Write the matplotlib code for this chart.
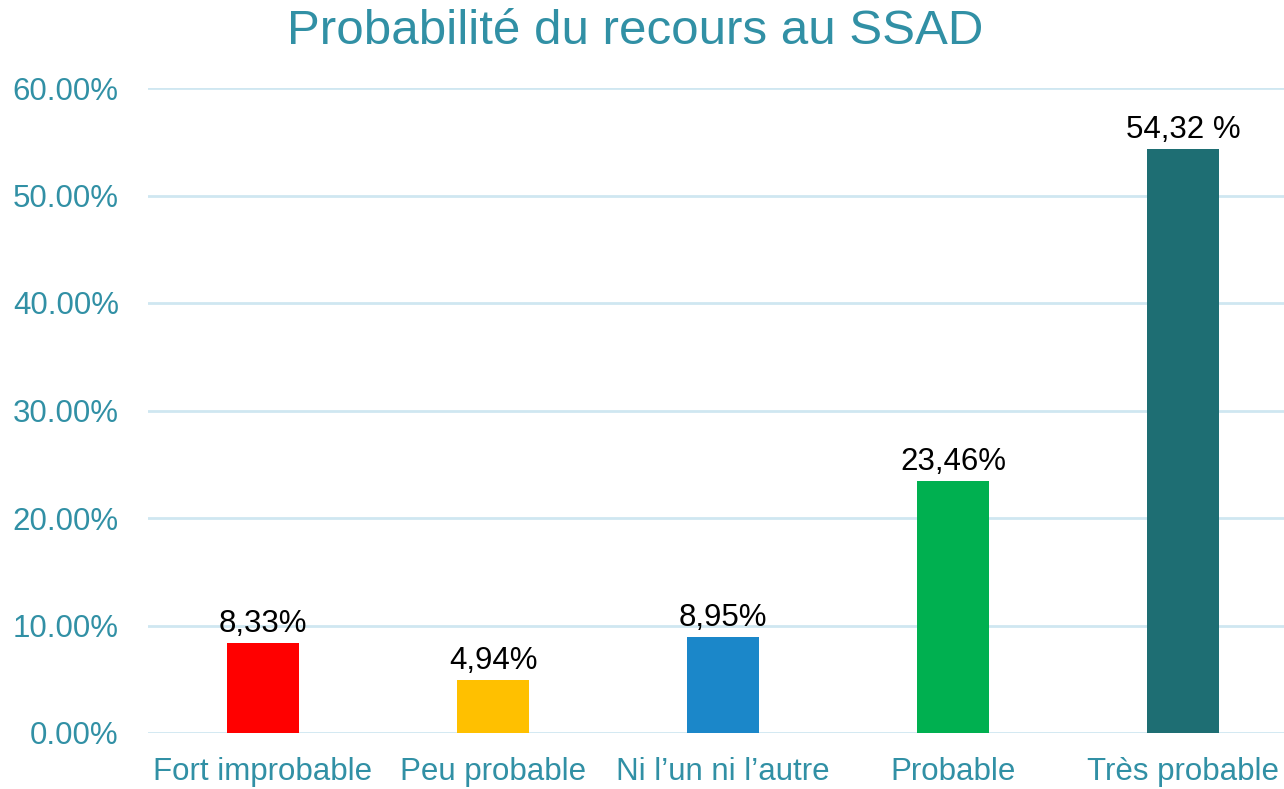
import matplotlib
matplotlib.use("Agg")
import matplotlib.pyplot as plt
from matplotlib.ticker import FuncFormatter

plt.rcParams['font.family'] = ['Liberation Sans', 'DejaVu Sans']

categories = ["Fort improbable", "Peu probable", "Ni l\u2019un ni l\u2019autre", "Probable", "Tr\u00e8s probable"]
values     = [8.33, 4.94, 8.95, 23.46, 54.32]
labels     = ["8,33%", "4,94%", "8,95%", "23,46%", "54,32 %"]
colors     = ["#FF0000", "#FFC000", "#1B87C9", "#00B050", "#1E6E73"]
yticks     = [0, 10, 20, 30, 40, 50, 60]

teal  = "#3190A5"
gridc = "#CFE7F1"

fig = plt.figure(figsize=(12.84, 7.89), dpi=100)
ax = fig.add_axes([148/1284, 56/789, 1150/1284, 645/789])

x = range(len(categories))
bars = ax.bar(x, values, width=0.317, color=colors, zorder=3)

for b, lab in zip(bars, labels):
    ax.annotate(lab, (b.get_x() + b.get_width()/2, b.get_height()),
                xytext=(0, 3), textcoords="offset points",
                ha="center", va="bottom", fontsize=22.5, color="black", zorder=4)

ax.set_xlim(-0.5, len(categories) - 0.5)
ax.set_ylim(0, 60)
ax.set_yticks(yticks)
ax.yaxis.set_major_formatter(FuncFormatter(lambda v, p: "%.2f%%" % v))
ax.set_xticks(list(x))
ax.set_xticklabels(categories)

ax.grid(axis="y", color=gridc, linewidth=2, zorder=0)
ax.set_axisbelow(True)
for s in ax.spines.values():
    s.set_visible(False)
ax.tick_params(axis="both", length=0, labelsize=22.5, labelcolor=teal)
ax.tick_params(axis="y", pad=21)
ax.tick_params(axis="x", pad=17)

fig.text(635/1284, 1 - 32/789, "Probabilit\u00e9 du recours au SSAD",
         ha="center", va="center", fontsize=35.5, color=teal)

fig.savefig("out.png", dpi=100)
